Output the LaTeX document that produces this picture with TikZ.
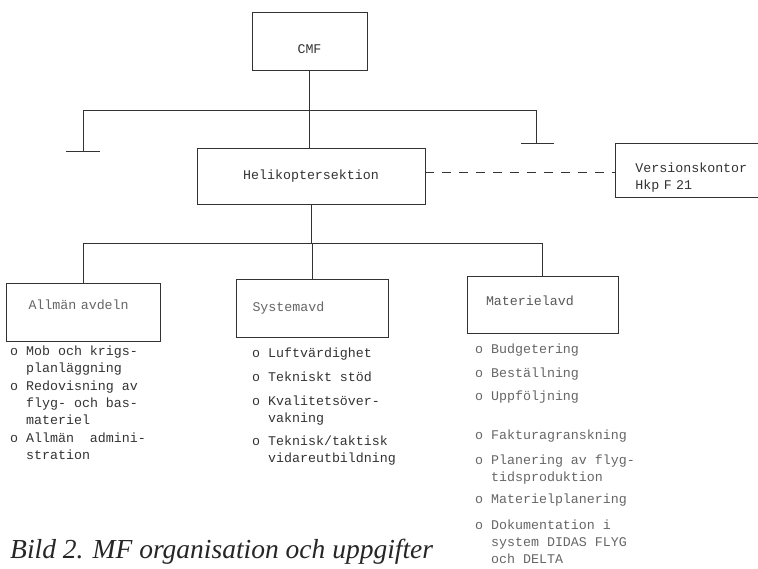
\documentclass[tikz,border=0pt]{standalone}
\usepackage{fontspec}
\setmonofont{Liberation Mono}
\newfontfamily\capfont{Liberation Serif}
\begin{document}
\begin{tikzpicture}[x=1pt,y=-1pt,
  ln/.style={draw=black!80, line width=0.9pt},
  box/.style={ln, rectangle, inner sep=0pt, font=\ttfamily\fontsize{13.3}{17}\selectfont, text=black!80},
  lbox/.style={box, align=left},
  lst/.style={anchor=north west, inner sep=0pt, align=left, font=\ttfamily\fontsize{13.3}{17}\selectfont, text=black!80}
]
\clip (0,0) rectangle (758,569);
\fill[white] (0,0) rectangle (758,569);

% boxes
\node[box, minimum width=115pt, minimum height=58pt] (cmf) at (309.5,41) {\rule{0pt}{25pt}CMF};
\node[box, minimum width=228pt, minimum height=56pt] (heli) at (311,176) {Helikoptersektion};
\node[lbox, anchor=west, minimum width=165pt, minimum height=54pt, text width=125pt, inner xsep=20pt] (vers) at (615,170) {\rule{0pt}{24pt}Versionskontor\\Hkp F 21};
\node[lbox, minimum width=153pt, minimum height=58pt, text width=110pt, inner xsep=22pt, text=black!60] (allm) at (83.5,312) {\rule[-14pt]{0pt}{14pt}Allmän avdeln};
\node[lbox, minimum width=151pt, minimum height=58pt, text width=120pt, inner xsep=16pt, text=black!60] (sys) at (312.5,308) {Systemavd};
\node[lbox, minimum width=151pt, minimum height=57pt, text width=113pt, inner xsep=19pt, text=black!65] (mat) at (542.5,304.5) {\rule[-7pt]{0pt}{7pt}Materielavd};

% upper bar with stubs
\coordinate (b1l) at (83,110);
\coordinate (b1r) at (536,110);
\coordinate (s1l) at (83,151);
\coordinate (s1r) at (536,143);
\coordinate (t1la) at (66,151);
\coordinate (t1lb) at (100,151);
\coordinate (t1ra) at (521,143);
\coordinate (t1rb) at (554,143);
\draw[ln] (cmf.south) -- (cmf.south |- heli.north);
\draw[ln] (s1l) -- (b1l) -- (b1r) -- (s1r);
\draw[ln] (t1la) -- (t1lb);
\draw[ln] (t1ra) -- (t1rb);

% dashed link
\draw[ln, dash pattern=on 9pt off 8pt] (heli.east |- 0,172) -- (vers.west |- 0,172);

% lower bar
\coordinate (bar2) at (0,243);
\draw[ln] (heli.south) -- (heli.south |- bar2);
\draw[ln] (allm.north) -- (allm.north |- bar2) -- (mat.north |- bar2) -- (mat.north);
\draw[ln] (sys.north) -- (sys.north |- bar2);

% lists
\node[lst] (la) at (10,346) {o Mob och krigs-\\\phantom{o }planläggning\\[1pt]
o Redovisning av\\\phantom{o }flyg- och bas-\\\phantom{o }materiel\\[1pt]
o Allmän~~admini-\\\phantom{o }stration};
\node[lst] (ls) at (252,348) {o Luftvärdighet\\[7pt]
o Tekniskt stöd\\[7pt]
o Kvalitetsöver-\\\phantom{o }vakning\\[6pt]
o Teknisk/taktisk\\\phantom{o }vidareutbildning};
\node[lst, text=black!60] (lm) at (475,344) {o Budgetering\\[7pt]
o Beställning\\[6pt]
o Uppföljning\\[22pt]
o Fakturagranskning\\[8pt]
o Planering av flyg-\\\phantom{o }tidsproduktion\\[5pt]
o Materielplanering\\[9pt]
o Dokumentation i\\\phantom{o }system DIDAS FLYG\\\phantom{o }och DELTA};

% caption
\node[anchor=base west, inner sep=0pt, font=\capfont\itshape\fontsize{27.5}{32}\selectfont, text=black!85] (cap) at (10,558) {Bild 2. MF organisation och uppgifter};
\end{tikzpicture}
\end{document}
